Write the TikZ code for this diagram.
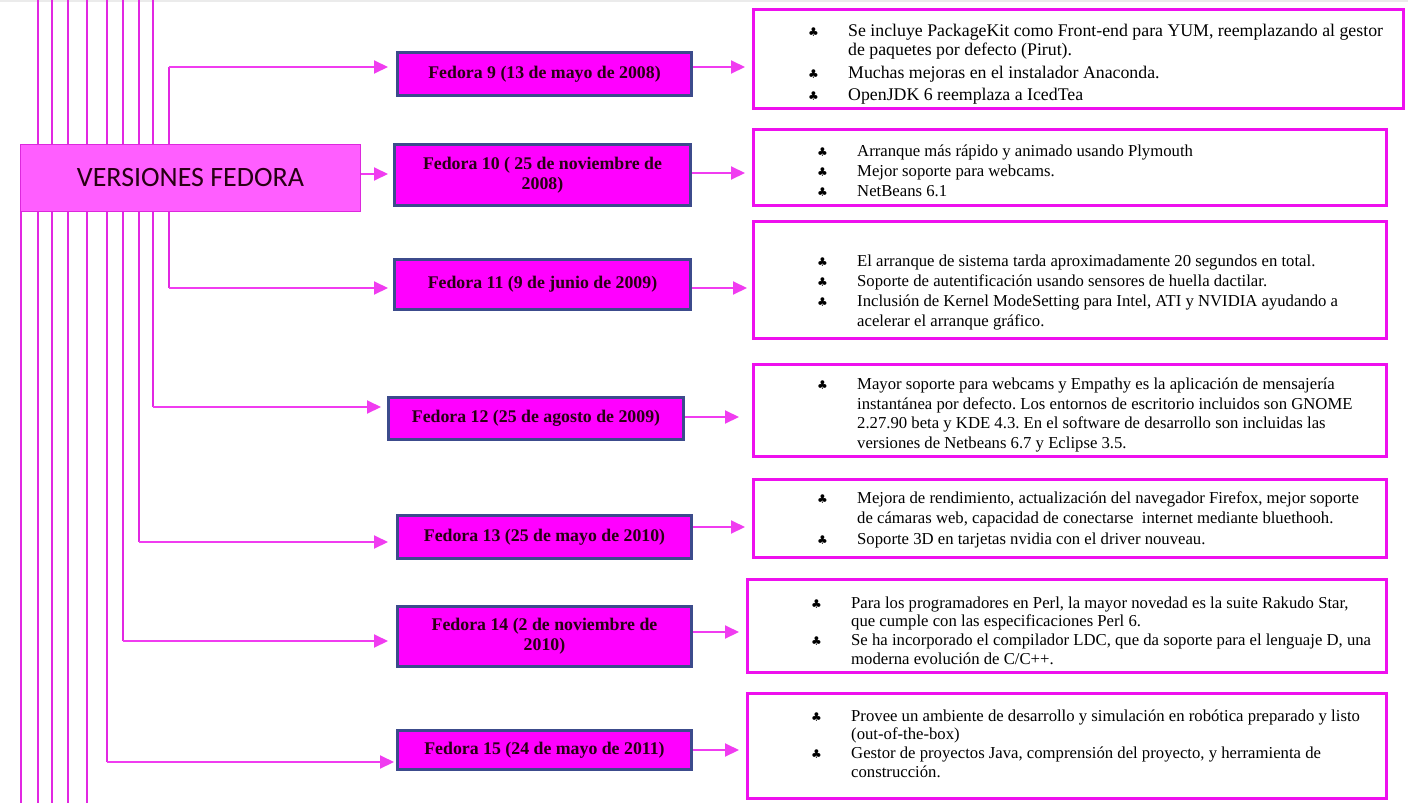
\documentclass[tikz,border=0pt]{standalone}
\usepackage{fontspec}
\setmainfont{Liberation Serif}
\newfontfamily\headfont{Carlito}
\newfontfamily\symfont{DejaVu Sans}
\usetikzlibrary{arrows.meta}
\definecolor{linecol}{RGB}{226,40,226}
\definecolor{arrcol}{RGB}{240,60,240}
\definecolor{mainfill}{RGB}{255,94,255}
\definecolor{mainborder}{RGB}{220,40,220}
\definecolor{fedfill}{RGB}{255,0,255}
\definecolor{fedborder}{RGB}{60,75,140}
\definecolor{detborder}{RGB}{238,16,238}
\definecolor{labtext}{RGB}{40,0,20}
\newcommand{\bul}{\makebox[40pt][l]{\symfont\fontsize{12}{12}\selectfont ♣}}
\frenchspacing
\tikzset{
  vline/.style={draw=linecol, line width=1.3pt},
  arr/.style={draw=arrcol, line width=2pt, -{Triangle[length=14pt,width=13pt]}},
  mainbox/.style={draw=mainborder, fill=mainfill, line width=1.3pt, inner sep=0pt,
    font=\headfont\fontsize{28}{30}\selectfont, text=labtext},
  fedbox/.style={draw=fedborder, fill=fedfill, line width=3pt, inner sep=0pt, align=center,
    font=\bfseries\fontsize{17.8}{19.7}\selectfont, text=labtext},
  detbox/.style={draw=detborder, fill=white, line width=3pt, inner sep=0pt},
  dettext/.style={anchor=base west, inner sep=0pt, font=\frenchspacing\fontsize{16.7}{19.7}\selectfont},
  dettextbig/.style={anchor=base west, inner sep=0pt, font=\frenchspacing\fontsize{17.8}{19.7}\selectfont},
}
\begin{document}
\begin{tikzpicture}[x=1pt,y=-1pt]
\useasboundingbox (0,0) rectangle (1408,803);
\fill[white] (0,0) rectangle (1408,803);
\fill[black!8] (0,0) rectangle (1408,2);

% trunk coordinates
\coordinate (v1) at (38,0);   \coordinate (w1) at (38,803);
\coordinate (v2) at (52,0);   \coordinate (w2) at (52,803);
\coordinate (v3) at (68,0);   \coordinate (w3) at (68,803);
\coordinate (v4) at (87,0);   \coordinate (w4) at (87,803);
\coordinate (v5) at (107,0);  \coordinate (w5) at (107,762);
\coordinate (v6) at (123,0);  \coordinate (w6) at (123,641);
\coordinate (v7) at (139,0);  \coordinate (w7) at (139,542);
\coordinate (v8) at (153,0);  \coordinate (w8) at (153,407);
\coordinate (w0) at (21,803);

\draw[vline] (v1) -- (w1);
\draw[vline] (v2) -- (w2);
\draw[vline] (v3) -- (w3);
\draw[vline] (v4) -- (w4);
\draw[vline] (v5) -- (w5);
\draw[vline] (v6) -- (w6);
\draw[vline] (v7) -- (w7);
\draw[vline] (v8) -- (w8);

% main box
\node[mainbox, minimum width=340pt, minimum height=67pt] (main) at (190.5,178) {VERSIONES FEDORA};
\draw[vline] (main.south -| w0) -- (w0);

% fedora boxes
\node[fedbox, minimum width=294pt, minimum height=43pt] (f9)  at (544.5,74)   {Fedora 9 (13 de mayo de 2008)};
\node[fedbox, minimum width=296pt, minimum height=61pt] (f10) at (542.5,175)  {Fedora 10 ( 25 de noviembre de\\2008)};
\node[fedbox, minimum width=296pt, minimum height=50pt] (f11) at (542.5,284.5){Fedora 11 (9 de junio de 2009)};
\node[fedbox, minimum width=295pt, minimum height=42pt] (f12) at (536,418.5)  {Fedora 12 (25 de agosto de 2009)};
\node[fedbox, minimum width=294pt, minimum height=43pt] (f13) at (544.5,537)  {Fedora 13 (25 de mayo de 2010)};
\node[fedbox, minimum width=294pt, minimum height=60pt] (f14) at (544.5,636.5){Fedora 14 (2 de noviembre de\\2010)};
\node[fedbox, minimum width=294pt, minimum height=39pt] (f15) at (544.5,750)  {Fedora 15 (24 de mayo de 2011)};

% detail boxes
\node[detbox, minimum width=650pt, minimum height=99pt]  (d9)  at (1078.5,59) {};
\node[detbox, minimum width=633pt, minimum height=76pt]  (d10) at (1070,167.5) {};
\node[detbox, minimum width=633pt, minimum height=117pt] (d11) at (1070,280) {};
\node[detbox, minimum width=633pt, minimum height=92pt]  (d12) at (1070,410.5) {};
\node[detbox, minimum width=633pt, minimum height=78pt]  (d13) at (1070,518.5) {};
\node[detbox, minimum width=639pt, minimum height=93pt]  (d14) at (1067,626) {};
\node[detbox, minimum width=639pt, minimum height=105pt] (d15) at (1067,746) {};

% texts
\node[dettextbig] (t9) at (808,36) {\begin{tabular}[t]{@{}l@{}l@{}}
\bul & Se incluye PackageKit como Front-end para YUM, reemplazando al gestor\\[-0.7pt]
 & de paquetes por defecto (Pirut).\\[3.3pt]
\bul & Muchas mejoras en el instalador Anaconda.\\[2.3pt]
\bul & OpenJDK 6 reemplaza a IcedTea
\end{tabular}};
\node[dettext] (t10) at (817,156) {\begin{tabular}[t]{@{}l@{}l@{}}
\bul & Arranque más rápido y animado usando Plymouth\\[0.6pt]
\bul & Mejor soporte para webcams.\\[0.6pt]
\bul & NetBeans 6.1
\end{tabular}};
\node[dettext] (t11) at (817,266) {\begin{tabular}[t]{@{}l@{}l@{}}
\bul & El arranque de sistema tarda aproximadamente 20 segundos en total.\\[0.3pt]
\bul & Soporte de autentificación usando sensores de huella dactilar.\\[0.3pt]
\bul & Inclusión de Kernel ModeSetting para Intel, ATI y NVIDIA ayudando a\\[0.3pt]
 & acelerar el arranque gráfico.
\end{tabular}};
\node[dettext] (t12) at (817,389.5) {\begin{tabular}[t]{@{}l@{}l@{}}
\bul & Mayor soporte para webcams y Empathy es la aplicación de mensajería\\[0pt]
 & instantánea por defecto. Los entornos de escritorio incluidos son GNOME\\[0pt]
 & 2.27.90 beta y KDE 4.3. En el software de desarrollo son incluidas las\\[0pt]
 & versiones de Netbeans 6.7 y Eclipse 3.5.
\end{tabular}};
\node[dettext] (t13) at (817,503.5) {\begin{tabular}[t]{@{}l@{}l@{}}
\bul & Mejora de rendimiento, actualización del navegador Firefox, mejor soporte\\[0.3pt]
 & de cámaras web, capacidad de conectarse\ \ internet mediante bluethooh.\\[1pt]
\bul & Soporte 3D en tarjetas nvidia con el driver nouveau.
\end{tabular}};
\node[dettext] (t14) at (811,608) {\begin{tabular}[t]{@{}l@{}l@{}}
\bul & Para los programadores en Perl, la mayor novedad es la suite Rakudo Star,\\[-1pt]
 & que cumple con las especificaciones Perl 6.\\[-0.7pt]
\bul & Se ha incorporado el compilador LDC, que da soporte para el lenguaje D, una\\[-0.7pt]
 & moderna evolución de C/C++.
\end{tabular}};
\node[dettext] (t15) at (811,721) {\begin{tabular}[t]{@{}l@{}l@{}}
\bul & Provee un ambiente de desarrollo y simulación en robótica preparado y listo\\[-1pt]
 & (out-of-the-box)\\[-0.7pt]
\bul & Gestor de proyectos Java, comprensión del proyecto, y herramienta de\\[-0.7pt]
 & construcción.
\end{tabular}};

% left connectors
\coordinate (b9) at (169,67);   \coordinate (l9) at (388,67);
\coordinate (l10) at (388,174);
\coordinate (b11) at (169,288); \coordinate (l11) at (388,288);
\coordinate (l12) at (381,407);
\coordinate (l13) at (388,542);
\coordinate (l14) at (388,641);
\coordinate (l15) at (394,762);

\draw[vline] (main.north -| b9) -- (b9);
\draw[arr] (b9) -- (l9);
\draw[arr] (main.east |- l10) -- (l10);
\draw[vline] (main.south -| b11) -- (b11);
\draw[arr] (b11) -- (l11);
\draw[arr] (w8) -- (l12);
\draw[arr] (w7) -- (l13);
\draw[arr] (w6) -- (l14);
\draw[arr] (w5) -- (l15);

% right connectors
\coordinate (r9) at (745,67);
\coordinate (r10) at (745,173);
\coordinate (r11) at (747,288);
\coordinate (r12) at (739,417);
\coordinate (r13) at (745,527);
\coordinate (r14) at (739,632);
\coordinate (r15) at (739,750);
\draw[arr] (f9.east |- r9) -- (r9);
\draw[arr] (f10.east |- r10) -- (r10);
\draw[arr] (f11.east |- r11) -- (r11);
\draw[arr] (f12.east |- r12) -- (r12);
\draw[arr] (f13.east |- r13) -- (r13);
\draw[arr] (f14.east |- r14) -- (r14);
\draw[arr] (f15.east |- r15) -- (r15);
\end{tikzpicture}
\end{document}
